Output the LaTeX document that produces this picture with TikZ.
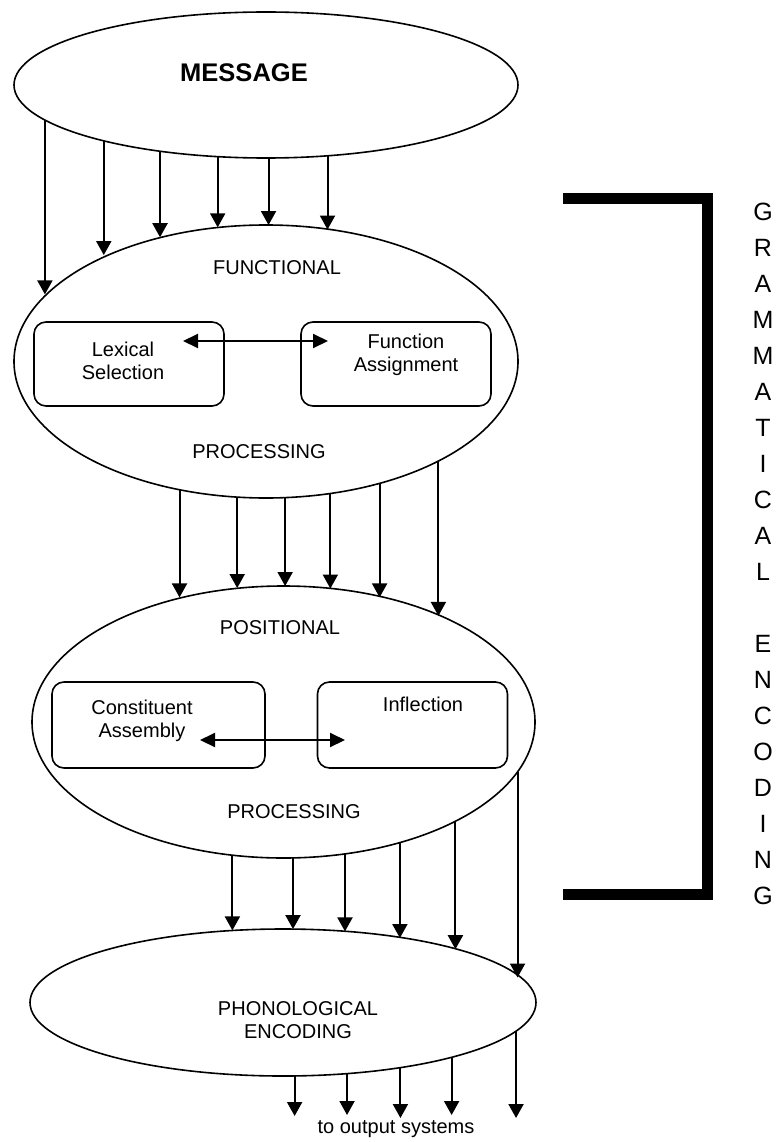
\documentclass[tikz,border=0pt]{standalone}
\usepackage{fontspec}
\setmainfont{Liberation Sans}
\usetikzlibrary{shapes.geometric,arrows.meta}
% angle (node frame) of the point of an ellipse border at page x = #5
\newcommand\bordang[5]{%
  \pgfmathsetmacro#1{mod(atan2((#4)*sqrt(max(0,1-(((#5)-(#2))/(#3))^2)),(#5)-(#2))+360,360)}%
}
\begin{document}
\begin{tikzpicture}[x=1pt,y=-1pt,
  ell/.style={draw, ellipse, line width=1.6pt, inner sep=0pt, outer sep=0pt},
  rbox/.style={draw, rounded corners=12pt, line width=1.6pt, inner sep=0pt, outer sep=0pt},
  arr/.style={line width=2pt, -{Triangle[width=15pt,length=14pt]}},
  darr/.style={line width=2pt, {Triangle[width=14pt,length=15pt]}-{Triangle[width=14pt,length=15pt]}},
  lbl/.style={font=\fontsize{20}{23}\selectfont, inner sep=0pt, align=center},
  bracket/.style={line width=11pt, miter limit=10}]
\useasboundingbox (0,0) rectangle (782,1142);

% ellipses
\node[ell, minimum width=504pt, minimum height=146pt] (msg) at (266,85) {};
\node[ell, minimum width=504pt, minimum height=273pt] (fun) at (266,361.5) {};
\node[ell, minimum width=503pt, minimum height=272pt] (pos) at (283.5,722) {};
\node[ell, minimum width=506pt, minimum height=147pt] (pho) at (283,1002.5) {};

% texts in ellipses
\node[font=\fontsize{25.5}{30}\selectfont\bfseries, inner sep=0pt] (tmsg) at (244,73) {MESSAGE};
\node[lbl] (tfun) at (277,268) {FUNCTIONAL};
\node[lbl] (tfp) at (259,452) {PROCESSING};
\node[lbl] (tpos) at (280,628) {POSITIONAL};
\node[lbl] (tpp) at (294,812) {PROCESSING};
\node[lbl] (tpho) at (298,1020) {PHONOLOGICAL\\ENCODING};

% boxes
\node[rbox, minimum width=190pt, minimum height=84pt] (lex) at (129,364) {};
\node[rbox, minimum width=190pt, minimum height=84pt] (fa) at (396,364) {};
\node[lbl] (tlex) at (123,361) {Lexical\\Selection};
\node[lbl] (tfa) at (406,355) {Function\\Assignment};
\coordinate (la) at (183,341);
\coordinate (ra) at (328,341);
\draw[darr] (la) -- (ra);

\node[rbox, minimum width=213pt, minimum height=86pt] (ca) at (158.5,725) {};
\node[rbox, minimum width=190pt, minimum height=86pt] (inf) at (412.5,725) {};
\node[lbl] (tca) at (142,721) {Constituent\\Assembly};
\node[lbl] (tinf) at (423,704) {Inflection};
\coordinate (lb) at (200,740);
\coordinate (rb) at (345,740);
\draw[darr] (lb) -- (rb);

% message -> functional
\foreach \x in {45,107,161,218,269,329}{
  \bordang\angA{266}{252}{-73}{\x}
  \bordang\angB{266}{252}{136.5}{\x}
  \draw[arr] (msg.\angA) -- (msg.\angA|-fun.\angB);
}
% functional -> positional
\foreach \x in {182,238,287,331,382,439}{
  \bordang\angA{266}{252}{-136.5}{\x}
  \bordang\angB{283.5}{251.5}{136}{\x}
  \draw[arr] (fun.\angA) -- (fun.\angA|-pos.\angB);
}
% positional -> phonological
\foreach \x in {234,294,345,402,456,518}{
  \bordang\angA{283.5}{251.5}{-136}{\x}
  \bordang\angB{283}{253}{73.5}{\x}
  \draw[arr] (pos.\angA) -- (pos.\angA|-pho.\angB);
}
% phonological -> output
\foreach \x/\ty/\n in {295/1116/1,349/1115/2,401/1118/3,456/1115/4,518/1118/5}{
  \coordinate (out\n) at (\x,\ty);
  \bordang\angA{283}{253}{-73.5}{\x}
  \draw[arr] (pho.\angA) -- (pho.\angA|-out\n);
}
\node[lbl] (tout) at (396,1129) {to output systems};

% bracket
\coordinate (bt) at (563,198.5);
\coordinate (bc1) at (707.5,198.5);
\coordinate (bc2) at (707.5,894);
\coordinate (bb) at (563,894);
\draw[bracket] (bt) -- (bc1) -- (bc2) -- (bb);
\node[font=\fontsize{25}{36}\selectfont, align=center, inner sep=0pt, anchor=north] (ge) at (763,203)
  {G\\R\\A\\M\\M\\A\\T\\I\\C\\A\\L\\~\\E\\N\\C\\O\\D\\I\\N\\G};
\end{tikzpicture}
\end{document}
